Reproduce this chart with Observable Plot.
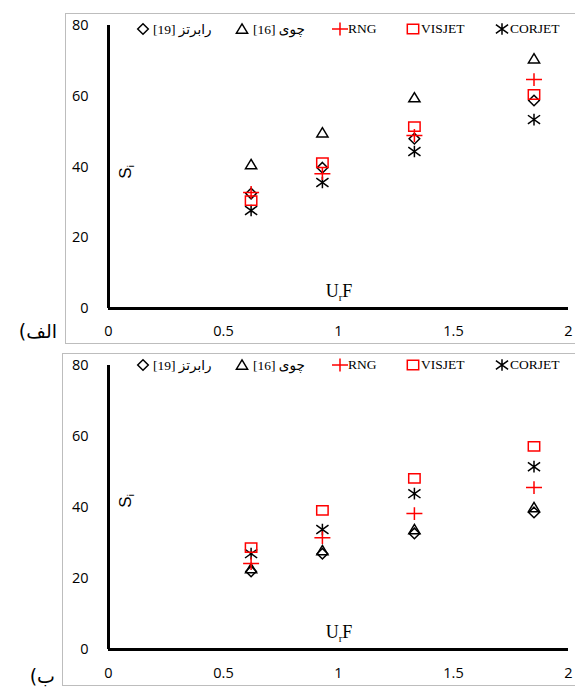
<!DOCTYPE html>
<html>
<head>
<meta charset="utf-8">
<script src="https://cdn.jsdelivr.net/npm/d3@7"></script>
<script src="https://cdn.jsdelivr.net/npm/@observablehq/plot@0.6"></script>
<style>
  body { margin: 0; background: #fff; }
  #root { position: relative; width: 575px; height: 687px; overflow: hidden; background: #fff; }
  .frame { position: absolute; border: 1px solid #bdbdbd; box-sizing: border-box; }
  .panel { position: absolute; left: 0; }
  .panel svg { background: transparent !important; }
  .leg { position: absolute; display: flex; align-items: center; height: 16px; white-space: nowrap;
         font-family: "Liberation Serif", "DejaVu Sans", serif; font-size: 13.5px; color: #000; }
  .leg svg { overflow: visible; flex: none; }
  .plabel { position: absolute; font-family: "DejaVu Sans", sans-serif; font-size: 19px; line-height: 22px; color: #000; }
</style>
</head>
<body>
<div id="root">
  <div class="frame" style="left:65px;top:13px;width:520px;height:331px"></div>
  <div class="frame" style="left:62px;top:353px;width:523px;height:333px"></div>
  <div id="pA" class="panel" style="top:0px"></div>
  <div id="pB" class="panel" style="top:343px"></div>
</div>
<script>
// ---- data ----
const xValues = [0.62, 0.93, 1.33, 1.85];
const xTicks = [0, 0.5, 1, 1.5, 2];
const yTicks = [0, 20, 40, 60, 80];
const seriesLabels = ["رابرتز [19]", "چوی [16]", "RNG", "VISJET", "CORJET"];
const panelLabels = ["الف)", "ب)"];

// panel الف
const aRoberts = [32.5, 39.8, 48.0, 58.8];
const aChoi    = [40.7, 49.7, 59.6, 70.6];
const aRNG     = [32.8, 38.1, 48.9, 64.7];
const aVISJET  = [30.5, 41.2, 51.4, 60.5];
const aCORJET  = [27.7, 35.6, 44.4, 53.4];
// panel ب
const bRoberts = [22.0, 27.0, 32.7, 38.6];
const bChoi    = [22.8, 27.9, 33.8, 40.0];
const bRNG     = [24.2, 31.5, 38.3, 45.6];
const bVISJET  = [28.7, 39.2, 48.2, 57.2];
const bCORJET  = [27.0, 33.8, 43.9, 51.5];

// ---- symbols ----
const kk = s => Math.sqrt(s / Math.PI);
const symDiamond = {draw(c, s){const r=kk(s); c.moveTo(0,-r); c.lineTo(r,0); c.lineTo(0,r); c.lineTo(-r,0); c.closePath();}};
const symTriangle = {draw(c, s){const r=kk(s); c.moveTo(0,-0.9*r); c.lineTo(r,0.75*r); c.lineTo(-r,0.75*r); c.closePath();}};
const symPlus = {draw(c, s){const r=kk(s); c.moveTo(-r,0); c.lineTo(r,0); c.moveTo(0,-0.8*r); c.lineTo(0,0.8*r);}};
const symSquare = {draw(c, s){const r=kk(s); c.moveTo(-r,-0.82*r); c.lineTo(r,-0.82*r); c.lineTo(r,0.82*r); c.lineTo(-r,0.82*r); c.closePath();}};
const symAsterisk = {draw(c, s){const r=kk(s); c.moveTo(0,-r); c.lineTo(0,r); c.moveTo(-1.05*r,-0.75*r); c.lineTo(1.05*r,0.75*r); c.moveTo(-1.05*r,0.75*r); c.lineTo(1.05*r,-0.75*r);}};

const styles = [
  {symbol: symDiamond, stroke: "#000", r: 5.3},
  {symbol: symTriangle, stroke: "#000", r: 5.6},
  {symbol: symPlus, stroke: "#ff0000", r: 8},
  {symbol: symSquare, stroke: "#ff0000", r: 5.7},
  {symbol: symAsterisk, stroke: "#000", r: 5.8}
];
const drawOrder = [0, 1, 4, 3, 2];

function buildPanel(series, cfg) {
  const marks = [
    Plot.axisX({ticks: xTicks, tickSize: 0, tickPadding: cfg.xPad, label: null, tickFormat: d => String(d)}),
    Plot.axisY({ticks: yTicks, tickSize: 0, tickPadding: 20, label: null}),
    Plot.ruleY([0], {stroke: "#000", strokeWidth: 3}),
    Plot.ruleX([0], {stroke: "#000", strokeWidth: 3})
  ];
  for (const si of drawOrder) {
    const rows = series[si].map((v, i) => ({x: xValues[i], y: v}));
    const st = styles[si];
    marks.push(Plot.dot(rows, {x: "x", y: "y", symbol: st.symbol, r: st.r, stroke: st.stroke, fill: "none", strokeWidth: 1.5}));
  }
  const plot = Plot.plot({
    width: 575, height: cfg.height,
    marginLeft: 108, marginRight: 7, marginTop: cfg.mt, marginBottom: cfg.mb,
    x: {domain: [0, 2]},
    y: {domain: [0, 80]},
    style: {fontFamily: "'Open Sans', sans-serif", fontSize: "14.5px", color: "#000", background: "transparent"},
    marks
  });
  const svg = d3.select(plot);
  // x-axis title U_rF
  const ux = svg.append("text").attr("x", 339).attr("y", cfg.uy).attr("text-anchor", "middle")
    .attr("font-family", "'Liberation Serif', serif").attr("font-size", 18).attr("fill", "#000");
  ux.append("tspan").text("U");
  ux.append("tspan").attr("font-size", 11).attr("dy", 4).text("r");
  ux.append("tspan").attr("dy", -4).text("F");
  // y-axis title S_i
  const sy = svg.append("text").attr("transform", `translate(131,${cfg.sy}) rotate(-90)`).attr("text-anchor", "middle")
    .attr("font-family", "'Liberation Sans', sans-serif").attr("font-size", 17).attr("fill", "#000");
  sy.append("tspan").text("S");
  sy.append("tspan").attr("font-size", 9).attr("dy", 3).text("i");
  return plot;
}

document.getElementById("pA").appendChild(buildPanel([aRoberts, aChoi, aRNG, aVISJET, aCORJET],
  {height: 343, mt: 25, mb: 35, xPad: 17, uy: 297, sy: 172}));
document.getElementById("pB").appendChild(buildPanel([bRoberts, bChoi, bRNG, bVISJET, bCORJET],
  {height: 344, mt: 22, mb: 38, xPad: 18, uy: 295, sy: 158}));

// ---- legends ----
const legSymX = [143, 242, 340, 413, 502];
const legGap = [3, 4, 1, 1, 1];
const root = document.getElementById("root");
function buildLegend(yc) {
  seriesLabels.forEach((lab, i) => {
    const st = styles[i];
    const div = document.createElement("div");
    div.className = "leg";
    div.style.left = (legSymX[i] - 7) + "px";
    div.style.top = (yc - 8) + "px";
    const s = d3.create("svg").attr("width", 14).attr("height", 16);
    s.append("path").attr("transform", "translate(7,8)")
      .attr("d", d3.symbol(st.symbol, st.r * st.r * Math.PI)())
      .attr("fill", "none").attr("stroke", st.stroke).attr("stroke-width", 1.5);
    div.appendChild(s.node());
    const span = document.createElement("span");
    span.textContent = lab;
    span.style.marginLeft = legGap[i] + "px";
    if (i < 2) { span.dir = "rtl"; span.style.unicodeBidi = "isolate"; }
    div.appendChild(span);
    root.appendChild(div);
  });
}
buildLegend(29);
buildLegend(365);

// ---- panel labels ----
[[panelLabels[0], 320, 518], [panelLabels[1], 665, 520]].forEach(([t, top, right]) => {
  const d = document.createElement("div");
  d.className = "plabel";
  d.dir = "rtl";
  d.textContent = t;
  d.style.top = top + "px";
  d.style.right = right + "px";
  root.appendChild(d);
});
</script>
</body>
</html>
